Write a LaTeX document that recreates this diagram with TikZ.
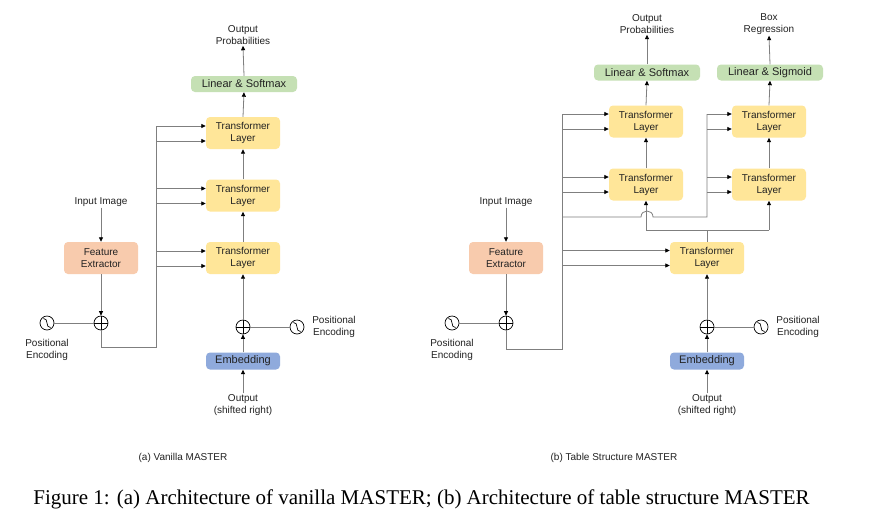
\documentclass[tikz,border=0pt]{standalone}
\usepackage{fontspec}
\setmainfont{Liberation Sans}
\newfontfamily\capfont{Liberation Serif}
\usetikzlibrary{arrows.meta,calc}
\definecolor{tlyel}{HTML}{FFE699}
\definecolor{fepeach}{HTML}{F8CBAD}
\definecolor{lingreen}{HTML}{C5E0B4}
\definecolor{embblue}{HTML}{8FAADC}
\definecolor{linec}{HTML}{7F7F7F}
\definecolor{txt}{HTML}{222222}
\tikzset{
  base/.style={rounded corners=4pt, inner sep=0pt, align=center, font=\fontsize{10}{12}\selectfont, text=txt},
  tlbox/.style={base, fill=tlyel, minimum width=74pt, minimum height=32pt},
  febox/.style={base, fill=fepeach, minimum width=74pt, minimum height=32pt},
  linbox/.style={base, fill=lingreen, minimum width=106pt, minimum height=16pt, font=\fontsize{11}{13}\selectfont},
  embbox/.style={base, fill=embblue, minimum width=74pt, minimum height=17pt, font=\fontsize{11}{13}\selectfont},
  lbl/.style={align=center, inner sep=1pt, font=\fontsize{10}{12}\selectfont, text=txt},
  plusnode/.style={circle, draw=black, fill=white, line width=0.7pt, minimum size=14pt, inner sep=0pt,
     path picture={\draw[line width=0.7pt] (path picture bounding box.north) -- (path picture bounding box.south)
       (path picture bounding box.west) -- (path picture bounding box.east);}},
  sinnode/.style={circle, draw=black, fill=white, line width=0.7pt, minimum size=14pt, inner sep=0pt},
  conn/.style={draw=linec, line width=0.8pt},
  arr/.style={conn, -{Triangle[length=4.5pt,width=4pt,color=black]}},
}
\newcommand{\sinwave}[1]{\draw[line width=0.7pt] ($(#1.center)+(-3.5,-4.5)$) .. controls ($(#1.center)+(2,-5)$) and ($(#1.center)+(-2,5)$) .. ($(#1.center)+(3.5,4.5)$);}
\begin{document}
\begin{tikzpicture}[x=1pt,y=-1pt]
\useasboundingbox[fill=white] (0,0) rectangle (890,525);

% ---------------- (a) Vanilla MASTER ----------------
\node[lbl] (outA) at (243,35) {Output\\Probabilities};
\node[linbox] (lsA) at (244,84) {Linear \& Softmax};
\node[tlbox] (tl1A) at (243,133) {Transformer\\Layer};
\node[tlbox] (tl2A) at (243,195.5) {Transformer\\Layer};
\node[tlbox] (tl3A) at (243,258) {Transformer\\Layer};
\node[lbl] (inA) at (101,202) {Input Image};
\node[febox] (feA) at (101,258) {Feature\\Extractor};
\node[plusnode] (plusA) at (101,323) {};
\node[sinnode] (sinA) at (47,323) {};
\sinwave{sinA}
\node[lbl] (peA) at (47,350) {Positional\\Encoding};
\node[plusnode] (plusA2) at (243,327) {};
\node[sinnode] (sinA2) at (297,327) {};
\sinwave{sinA2}
\node[lbl] (peA2) at (334,327) {Positional\\Encoding};
\node[embbox] (embA) at (243,361) {Embedding};
\node[lbl] (outsA) at (243,405) {Output\\(shifted right)};
\node[lbl] (capA) at (183,458) {(a) Vanilla MASTER};

\coordinate (busAb) at (156,347);
\coordinate (busAt) at (156,127);
\draw[arr] (lsA.north) -- (outA.south);
\draw[arr] (tl1A.north) -- (lsA.south);
\draw[arr] (tl2A.north) -- (tl1A.south);
\draw[arr] (tl3A.north) -- (tl2A.south);
\draw[arr] (inA.south) -- (feA.north);
\draw[arr] (feA.south) -- (plusA.north);
\draw[conn] (sinA.east) -- (plusA.west);
\draw[conn] (plusA.south) |- (busAb) -- (busAt);
\foreach \n in {tl1A,tl2A,tl3A}{
  \draw[arr] (busAt |- {$(\n.center)+(0,-7)$}) -- ($(\n.west)+(0,-7)$);
  \draw[arr] (busAt |- {$(\n.center)+(0,8)$}) -- ($(\n.west)+(0,8)$);
}
\draw[arr] (plusA2.north) -- (tl3A.south);
\draw[arr] (embA.north) -- (plusA2.south);
\draw[conn] (sinA2.west) -- (plusA2.east);
\draw[arr] (outsA.north) -- (embA.south);

% ---------------- (b) Table Structure MASTER ----------------
\node[lbl] (outB) at (647,24) {Output\\Probabilities};
\node[lbl] (boxB) at (769,24) {Box\\Regression};
\node[linbox] (lsB) at (647,72.5) {Linear \& Softmax};
\node[linbox] (lgB) at (770,72.5) {Linear \& Sigmoid};
\node[tlbox] (tl1B) at (646,121.5) {Transformer\\Layer};
\node[tlbox] (tl2B) at (646,184.5) {Transformer\\Layer};
\node[tlbox] (tr1B) at (769,121.5) {Transformer\\Layer};
\node[tlbox] (tr2B) at (769,184.5) {Transformer\\Layer};
\node[tlbox] (tlbB) at (707,258) {Transformer\\Layer};
\node[lbl] (inB) at (506,202) {Input Image};
\node[febox] (feB) at (506,258) {Feature\\Extractor};
\node[plusnode] (plusB) at (506,323) {};
\node[sinnode] (sinB) at (452,323) {};
\sinwave{sinB}
\node[lbl] (peB) at (452,350) {Positional\\Encoding};
\node[plusnode] (plusB2) at (707,327) {};
\node[sinnode] (sinB2) at (761,327) {};
\sinwave{sinB2}
\node[lbl] (peB2) at (798,327) {Positional\\Encoding};
\node[embbox] (embB) at (707,361) {Embedding};
\node[lbl] (outsB) at (707,405) {Output\\(shifted right)};
\node[lbl] (capB) at (614,458) {(b) Table Structure MASTER};

\draw[arr] (lsB.north) -- (outB.south);
\draw[arr] (lgB.north) -- (boxB.south);
\draw[arr] (tl1B.north) -- (lsB.south);
\draw[arr] (tr1B.north) -- (lgB.south);
\draw[arr] (tl2B.north) -- (tl1B.south);
\draw[arr] (tr2B.north) -- (tr1B.south);
\draw[arr] (inB.south) -- (feB.north);
\draw[arr] (feB.south) -- (plusB.north);
\draw[conn] (sinB.east) -- (plusB.west);

\coordinate (busBb) at (562,349);
\coordinate (busBt) at (562,114);
\coordinate (busRt) at (707,114);
\draw[conn] (plusB.south) |- (busBb) -- (busBt);
\foreach \n in {tl1B,tl2B,tlbB}{
  \draw[arr] (busBt |- {$(\n.center)+(0,-7.5)$}) -- ($(\n.west)+(0,-7.5)$);
  \draw[arr] (busBt |- {$(\n.center)+(0,7.5)$}) -- ($(\n.west)+(0,7.5)$);
}
% hop line from left bus to right bus
\coordinate (hopL) at (641,217);
\coordinate (hopR) at (653,217);
\draw[conn] (busBt |- hopL) -- (hopL) .. controls (641,209) and (653,209) .. (hopR) -- (busRt |- hopR) -- (busRt);
\foreach \n in {tr1B,tr2B}{
  \draw[arr] (busRt |- {$(\n.center)+(0,-7.5)$}) -- ($(\n.west)+(0,-7.5)$);
  \draw[arr] (busRt |- {$(\n.center)+(0,7.5)$}) -- ($(\n.west)+(0,7.5)$);
}
% split from bottom transformer
\coordinate (splitM) at (707,230);
\coordinate (splitL) at (646,230);
\coordinate (splitR) at (769,230);
\draw[conn] (tlbB.north) -- (splitM);
\draw[conn] (splitL) -- (splitR);
\draw[arr] (splitL) -- (tl2B.south);
\draw[arr] (splitR) -- (tr2B.south);

\draw[arr] (plusB2.north) -- (tlbB.south);
\draw[arr] (embB.north) -- (plusB2.south);
\draw[conn] (sinB2.west) -- (plusB2.east);
\draw[arr] (outsB.north) -- (embB.south);

% caption
\node[inner sep=0pt, text=black, font=\capfont\fontsize{21}{24}\selectfont] (cap) at (421.5,499) {Figure 1: (a) Architecture of vanilla MASTER; (b) Architecture of table structure MASTER};
\end{tikzpicture}
\end{document}
